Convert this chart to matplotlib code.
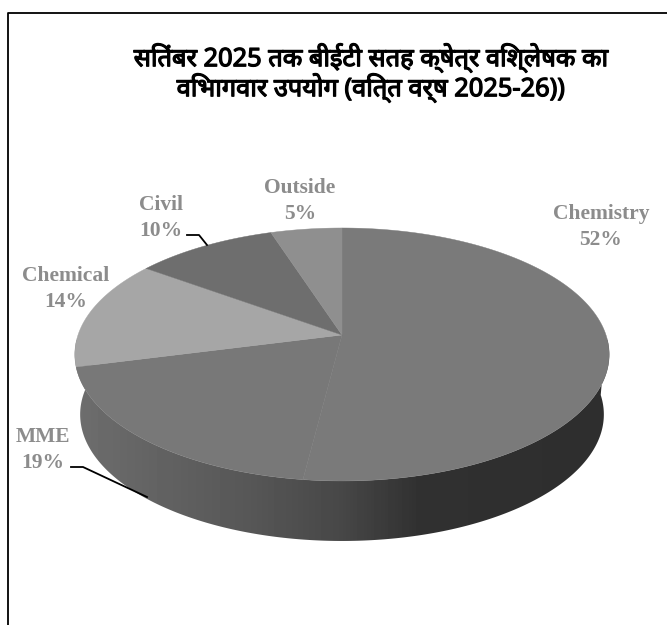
#!/usr/bin/env python3
# -*- coding: utf-8 -*-
"""
Department-wise use of the BET surface area analyser, drawn as a tilted
3D pie. The rim is projected by hand since matplotlib has no 3D pie.
"""

import numpy as np
import matplotlib
matplotlib.use('Agg')
import matplotlib.pyplot as plt
import matplotlib.patheffects as pe
from matplotlib.patches import Polygon

title_lines = ['सितंबर 2025 तक बीईटी सतह क्षेत्र विश्लेषक का',
               'विभागवार उपयोग (वित्त वर्ष 2025-26))']
departments = ['Chemistry', 'MME', 'Chemical', 'Civil', 'Outside']
shares = [52, 19, 14, 10, 5]
face_colors = ['#7a7a7a', '#787878', '#a6a6a6', '#6e6e6e', '#8f8f8f']

# Projection of the pie disc, in pixels of the saved figure
CX, CY = 342.0, 335.0
RADIUS = 264.0
TILT_A = -71.9
TILT_C = 0.154
DEPTH = 60.0
SHRINK = 0.98


def rim(theta):
    # theta runs clockwise from twelve o'clock, in degrees
    t = np.radians(theta)
    u, v = np.sin(t), np.cos(t)
    w = 1 + TILT_C * v
    return CX + RADIUS * u / w, (CY + TILT_A * v) / w


def lower_rim(theta):
    x, y = rim(theta)
    return CX + (x - CX) * SHRINK, y + DEPTH


fig = plt.figure(figsize=(6.67, 6.25), dpi=100)
ax = fig.add_axes([0, 0, 1, 1])
ax.set_xlim(0, 667)
ax.set_ylim(625, 0)
ax.axis('off')

# Frame: only the top and left edges are inside the figure
ax.plot([7.5, 7.5, 667], [625, 12.5, 12.5], color='black', lw=1.3, zorder=1)

# Side wall, shaded from left to right
theta = np.linspace(90, 280, 300)
xt, yt = rim(theta)
xb, yb = lower_rim(theta)
wall = Polygon(np.r_[np.c_[xt, yt], np.c_[xb, yb][::-1]], closed=True,
               facecolor='none', edgecolor='none', transform=ax.transData)
ax.add_patch(wall)
xs = np.arange(70, 615)
shade = np.interp(xs, [75, 150, 250, 340, 420, 610],
                  [0.43, 0.39, 0.34, 0.28, 0.19, 0.18])
img = ax.imshow(shade[np.newaxis, :], cmap='gray', vmin=0, vmax=1,
                extent=[70, 615, 560, 340], aspect='auto', zorder=2)
img.set_clip_path(wall)
ax.set_xlim(0, 667)
ax.set_ylim(625, 0)

# Top faces
edges = np.cumsum([0] + shares) * 3.6
for start, end, color in zip(edges[:-1], edges[1:], face_colors):
    arc = np.linspace(start, end, 200)
    x, y = rim(arc)
    pts = np.r_[[[CX, CY]], np.c_[x, y]]
    ax.add_patch(Polygon(pts, closed=True, facecolor=color, edgecolor=color,
                         lw=0.3, zorder=3))

# Data labels
label_pos = [(601, 227), (43, 450), (66, 289), (161, 218), (300, 201)]
for name, share, (lx, ly) in zip(departments, shares, label_pos):
    ax.text(lx, ly, f'{name}\n{share}%', ha='center', va='center',
            family='Liberation Serif', weight='bold', fontsize=15.5,
            color='#8c8c8c', linespacing=1.35, zorder=5)

# Leader lines for the two labels that sit off the rim
ax.plot([187, 199, 207], [235, 235, 245], color='black', lw=1.3, zorder=4)
ax.plot([71, 83, 147], [467, 467, 497], color='black', lw=1.3, zorder=4)

# The Devanagari face has no bold cut, so thicken it with a stroke
for i, line in enumerate(title_lines):
    ax.text(371, 58 + i * 30, line, ha='center', va='center',
            family=['Noto Sans', 'DejaVu Sans'], weight='bold', fontsize=18.3,
            color='black', zorder=5,
            path_effects=[pe.withStroke(linewidth=0.9, foreground='black')])

fig.savefig('out.png', dpi=100)
